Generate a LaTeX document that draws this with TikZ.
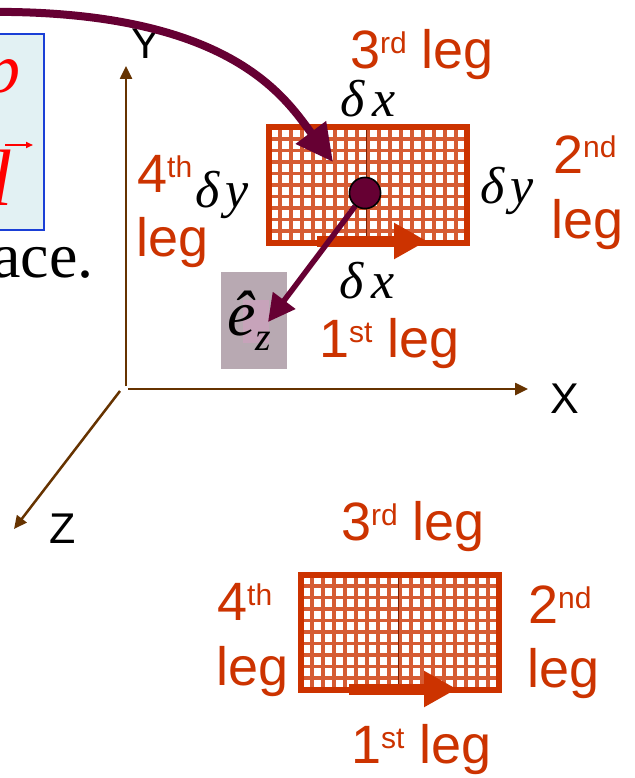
\documentclass[tikz,border=0pt]{standalone}
\usepackage{fontspec}
\setmainfont{Liberation Serif}
\newfontfamily\arial{Liberation Sans}
\usetikzlibrary{arrows.meta,calc}
\definecolor{legc}{HTML}{CC3300}
\definecolor{purp}{HTML}{660033}
\definecolor{axc}{HTML}{663300}
\definecolor{ezgray}{HTML}{B8A9B2}
\definecolor{ezpink}{HTML}{C7A3BA}
\definecolor{boxblue}{HTML}{1A3FD6}
\definecolor{boxfill}{HTML}{E2F1F3}
\definecolor{redtxt}{HTML}{FF0000}
\newcommand{\lsup}[1]{\raisebox{15pt}{\fontsize{30}{30}\selectfont #1}}
\tikzset{
  legtxt/.style={font=\arial\fontsize{54}{60}\selectfont, text=legc, inner sep=0pt, anchor=base west},
  axtxt/.style={font=\arial\fontsize{43}{50}\selectfont, text=black, inner sep=0pt, anchor=base west},
  dtxt/.style={font=\fontsize{52}{56}\selectfont\itshape, text=black, inner sep=0pt, anchor=base west},
  gridl/.style={draw=legc!80!white, line width=3.4pt},
  gridrect/.style={draw=legc, line width=6pt, minimum width=198pt, minimum height=115pt, inner sep=0pt, fill=white,
    path picture={
      \foreach \k in {1,...,17} {\draw[gridl] ($(path picture bounding box.south west)!\k/18!(path picture bounding box.south east)$) -- ++(0,140);}
      \foreach \k in {1,...,9} {\draw[gridl] ($(path picture bounding box.south west)!\k/10!(path picture bounding box.north west)$) -- ++(220,0);}
      \draw[draw=legc!60!black, line width=0.8pt] ($(path picture bounding box.south west)!0.49!(path picture bounding box.south east)$) -- ++(0,140);
    }},
  axisarrow/.style={draw=axc, line width=2.5pt, -{Triangle[length=13pt,width=12pt]}},
  legarrow/.style={draw=legc, line width=11pt, -{Triangle[length=33pt,width=34pt]}},
  ezarrow/.style={draw=purp, line width=5.5pt, -{Triangle[length=27pt,width=27pt]}},
  bigcurve/.style={draw=purp, line width=8pt, -{Triangle[length=37pt,width=36pt]}},
  vecarrow/.style={draw=redtxt, line width=1.6pt, -{Triangle[length=7pt,width=6pt]}},
}
\begin{document}
\begin{tikzpicture}[x=1pt,y=1pt]
\path[use as bounding box, clip] (0,0) rectangle (634,-778);
\fill[white] (0,0) rectangle (634,-778);

% blue formula box (cut at left edge)
\node[draw=boxblue, fill=boxfill, line width=2.5pt, minimum width=60pt, minimum height=196pt, inner sep=0pt] (fbox) at (14,-132) {};
\node[font=\fontsize{70}{70}\selectfont\itshape, text=redtxt, inner sep=0pt, anchor=base west] (ptxt) at (-15,-93) {p};
\node[font=\fontsize{80}{80}\selectfont\itshape, text=redtxt, inner sep=0pt, anchor=base west] (ltxt) at (-10,-205) {l};
\coordinate (va) at (5,-145);
\coordinate (vb) at (33,-145);
\draw[vecarrow] (va) -- (vb);

% text "ace."
\node[font=\fontsize{64}{70}\selectfont, inner sep=0pt, anchor=base west] (ace) at (-8,-277) {ace.};

% axes
\coordinate (yb) at (126,-386);
\coordinate (yt) at (126,-66);
\coordinate (xs) at (128,-389);
\coordinate (xe) at (528,-389);
\coordinate (zs) at (120,-391);
\coordinate (ze) at (14,-529);
\draw[axisarrow] (yb) -- (yt);
\draw[axisarrow] (xs) -- (xe);
\draw[axisarrow] (zs) -- (ze);
\node[axtxt] (ylab) at (131,-59) {Y};
\node[axtxt] (xlab) at (550,-413) {X};
\node[axtxt] (zlab) at (49,-543) {Z};

% upper rectangle
\node[gridrect] (r1) at (368,-185) {};
\coordinate (a1s) at (317,-241);
\coordinate (a1e) at (427,-241);
\draw[legarrow] (a1s) -- (a1e);

% upper labels
\node[legtxt] (u3) at (350,-69) {3\lsup{rd} leg};
\node[legtxt] (u4a) at (137,-192) {4\lsup{th}};
\node[legtxt] (u4b) at (136,-256) {leg};
\node[legtxt] (u2a) at (553,-173) {2\lsup{nd}};
\node[legtxt] (u2b) at (551,-238) {leg};
\node[legtxt] (u1) at (319,-357) {1\lsup{st} leg};
\node[dtxt] (dxt) at (340,-117) {δ\hspace{8pt}x};
\node[dtxt] (dxb) at (339,-298) {δ\hspace{8pt}x};
\node[dtxt] (dyl) at (195,-207) {δ\hspace{6pt}y};
\node[dtxt] (dyr) at (480,-203) {δ\hspace{6pt}y};

% e_z box
\node[fill=ezgray, minimum width=66pt, minimum height=97pt, inner sep=0pt] (ezbox) at (254,-320.5) {};
\node[fill=ezpink, minimum width=26pt, minimum height=43pt, inner sep=0pt] (ezin) at (256,-321.5) {};
\node[font=\fontsize{64}{64}\selectfont\itshape, inner sep=0pt, anchor=base west] (ez) at (227,-335) {\^{e}\raisebox{-15pt}{\fontsize{40}{40}\selectfont z}};

% dot and e_z arrow
\coordinate (eztip) at (268,-322);
\node[circle, fill=purp, draw=black, line width=1.5pt, minimum size=31pt, inner sep=0pt] (dot) at (365,-193) {};
\draw[ezarrow] (dot) -- (eztip);
\node[circle, fill=purp, draw=black, line width=1.5pt, minimum size=31pt, inner sep=0pt] at (dot.center) {};

% big curved arrow
\coordinate (cstart) at (-20,-12);
\coordinate (ctip) at (333,-162);
\draw[bigcurve] (cstart) .. controls (230,-8) and (285,-98) .. (ctip);

% lower rectangle
\node[gridrect] (r2) at (400,-632) {};
\coordinate (a2s) at (349,-689);
\coordinate (a2e) at (457,-689);
\draw[legarrow] (a2s) -- (a2e);
\node[legtxt] (l3) at (341,-540) {3\lsup{rd} leg};
\node[legtxt] (l4a) at (217,-620) {4\lsup{th}};
\node[legtxt] (l4b) at (216,-685) {leg};
\node[legtxt] (l2a) at (528,-623) {2\lsup{nd}};
\node[legtxt] (l2b) at (527,-687) {leg};
\node[legtxt] (l1) at (351,-763) {1\lsup{st} leg};
\end{tikzpicture}
\end{document}
